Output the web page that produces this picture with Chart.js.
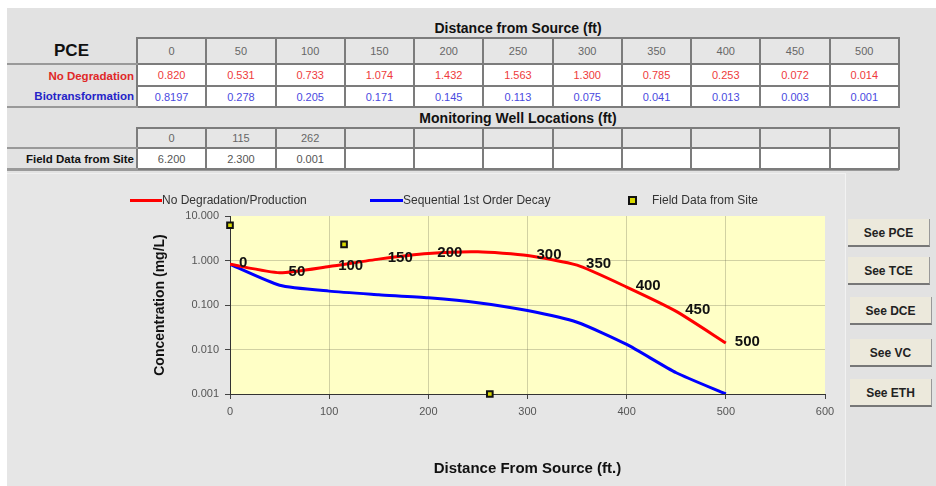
<!DOCTYPE html>
<html>
<head>
<meta charset="utf-8">
<script src="https://cdn.jsdelivr.net/npm/chart.js@4"></script>
<style>
  body { margin: 0; background: #fff; font-family: "Liberation Sans", Arial, sans-serif; }
  #hoja { position: absolute; left: 7px; top: 8px; width: 929px; height: 478px; background: #e2e2e2; }
  .tit { position: absolute; font-weight: bold; font-size: 14px; color: #111; text-align: center; }
  table.tabla { position: absolute; left: 7px; border-collapse: collapse; table-layout: fixed; font-size: 11px; }
  table.tabla td { padding: 0; text-align: center; overflow: hidden; white-space: nowrap; }
  td.dato { border: 2px solid #7c7c7c; }
  td.enc { color: #666; background: #e6e6e6; }
  td.blanco { background: #fff; }
  td.etq { text-align: right !important; font-weight: bold; font-size: 11.5px; padding-right: 2px !important; }
  #grafica { position: absolute; left: 7px; top: 173px; width: 838px; height: 313px; background: #e6e6e6; border-right: 1px solid #f2f2f2; border-top: 1px solid #f0f0f0; }
  #leyenda { position: absolute; top: 193px; left: 0; font-size: 12px; color: #333; }
  .item { position: absolute; top: 0; white-space: nowrap; height: 14px; line-height: 14px; }
  .linea { position: absolute; top: 6px; height: 3px; }
  .boton { position: absolute; left: 848px; width: 82px; height: 28px; line-height: 28px; text-align: center; font-weight: bold; font-size: 12px; color: #222; background: #ece9dc; border-bottom: 2px solid #777; border-right: 1px solid #999; box-sizing: border-box; }
</style>
</head>
<body>
<div id="hoja"></div>

<div class="tit" style="left:137px; width:762px; top:20px;">Distance from Source (ft)</div>
<table class="tabla" id="tabla1" style="top:37px;"></table>
<div class="tit" style="left:137px; width:762px; top:110px;">Monitoring Well Locations (ft)</div>
<table class="tabla" id="tabla2" style="top:127px;"></table>
<div style="position:absolute; left:7px; top:170px; width:892px; height:1px; background:#9a9a9a;"></div>

<div id="grafica"><canvas id="myChart"></canvas></div>

<div id="leyenda">
  <div class="linea" style="left:130px; width:32px; background:#ff0000;"></div>
  <div class="item" style="left:162px;">No Degradation/Production</div>
  <div class="linea" style="left:370px; width:33px; background:#0000ff;"></div>
  <div class="item" style="left:403px;">Sequential 1st Order Decay</div>
  <div style="position:absolute; left:628px; top:3px; width:5px; height:5px; border:2px solid #111; background:#d8d800;"></div>
  <div class="item" style="left:652px;">Field Data from Site</div>
</div>

<div class="boton" style="top:219px;">See PCE</div>
<div class="boton" style="top:257px;">See TCE</div>
<div class="boton" style="top:297px; left:850px;">See DCE</div>
<div class="boton" style="top:339px; left:850px;">See VC</div>
<div class="boton" style="top:379px; left:850px;">See ETH</div>

<script>
// Datos de la grafica
const distancias = [0, 50, 100, 150, 200, 250, 300, 350, 400, 450, 500];
const sinDegradacion = [0.820, 0.531, 0.733, 1.074, 1.432, 1.563, 1.300, 0.785, 0.253, 0.072, 0.014];
const biotransformacion = [0.8197, 0.278, 0.205, 0.171, 0.145, 0.113, 0.075, 0.041, 0.013, 0.003, 0.001];
const textoSinDeg = ['0.820', '0.531', '0.733', '1.074', '1.432', '1.563', '1.300', '0.785', '0.253', '0.072', '0.014'];
const textoBio = ['0.8197', '0.278', '0.205', '0.171', '0.145', '0.113', '0.075', '0.041', '0.013', '0.003', '0.001'];
const pozos = [0, 115, 262];
const datosCampo = [6.200, 2.300, 0.001];
const textoCampo = ['6.200', '2.300', '0.001'];
// etiquetas sobre la curva roja (la de 250 no aparece)
const etiquetasRojas = ['0', '50', '100', '150', '200', '', '300', '350', '400', '450', '500'];
const ticksY = [0.001, 0.01, 0.1, 1, 10];

// Arma las tablas de arriba
function colgroup(){
    let html = '<colgroup><col style="width:130px">';
    for (let i = 0; i < 11; i++) html += '<col style="width:69.27px">';
    return html + '</colgroup>';
}

function celdas(valores, clase, color){
    let html = '';
    for (let i = 0; i < 11; i++){
        const v = valores[i] !== undefined ? valores[i] : '';
        html += `<td class="dato ${clase}" style="color:${color}">${v}</td>`;
    }
    return html;
}

const t1 = document.getElementById('tabla1');
t1.innerHTML = colgroup() +
    `<tr style="height:26px"><td style="font-size:17px;font-weight:bold;color:#111;border-bottom:2px solid #999">PCE</td>${celdas(distancias, 'enc', '#666')}</tr>` +
    `<tr style="height:22px"><td class="etq" style="color:#e02828">No Degradation</td>${celdas(textoSinDeg, 'blanco', '#ee3b3b')}</tr>` +
    `<tr style="height:21px"><td class="etq" style="color:#2424c8;border-bottom:2px solid #999">Biotransformation</td>${celdas(textoBio, 'blanco', '#4a4ae0')}</tr>`;

const t2 = document.getElementById('tabla2');
t2.innerHTML = colgroup() +
    `<tr style="height:20px"><td style="border-bottom:2px solid #999"></td>${celdas(pozos, 'enc', '#666')}</tr>` +
    `<tr style="height:21px"><td class="etq" style="color:#111;border-bottom:2px solid #999">Field Data from Site</td>${celdas(textoCampo, 'blanco', '#555')}</tr>`;

// Fondo amarillo del area de la grafica
const fondoAmarillo = {
    id: 'fondoAmarillo',
    beforeDraw(chart){
        const {ctx, chartArea} = chart;
        ctx.save();
        ctx.fillStyle = '#ffffc6';
        ctx.fillRect(chartArea.left, chartArea.top, chartArea.right - chartArea.left, chartArea.bottom - chartArea.top);
        ctx.restore();
    }
};

// Pone la distancia junto a cada punto de la curva roja
const etiquetas = {
    id: 'etiquetas',
    afterDatasetsDraw(chart){
        const ctx = chart.ctx;
        const meta = chart.getDatasetMeta(0);
        ctx.save();
        ctx.font = 'bold 15px "Liberation Sans", Arial, sans-serif';
        ctx.fillStyle = '#111';
        ctx.textAlign = 'left';
        ctx.textBaseline = 'middle';
        meta.data.forEach((p, i) => {
            if (etiquetasRojas[i]) ctx.fillText(etiquetasRojas[i], p.x + 9, p.y - 1);
        });
        ctx.restore();
    }
};

const ctx = document.getElementById('myChart');

new Chart(ctx, {
    type: 'line',
    data: {
        datasets: [{
            label: 'No Degradation/Production',
            data: distancias.map((d, i) => ({x: d, y: sinDegradacion[i]})),
            borderColor: '#ff0000',
            borderWidth: 3,
            pointRadius: 0,
            tension: 0.2
        },
        {
            label: 'Sequential 1st Order Decay',
            data: distancias.map((d, i) => ({x: d, y: biotransformacion[i]})),
            borderColor: '#0000ff',
            borderWidth: 3,
            pointRadius: 0,
            tension: 0.2
        },
        {
            label: 'Field Data from Site',
            data: pozos.map((d, i) => ({x: d, y: datosCampo[i]})),
            showLine: false,
            pointStyle: 'rect',
            pointRadius: 4,
            borderWidth: 2,
            borderColor: '#111',
            backgroundColor: '#d8d800',
            clip: false
        }]
    },
    options: {
        responsive: true,
        maintainAspectRatio: false,
        animation: false,
        layout: { padding: { top: 42, right: 20, left: 140, bottom: 0 } },
        plugins: {
            legend: { display: false },
            tooltip: { enabled: false }
        },
        scales: {
            x: {
                type: 'linear',
                min: 0,
                max: 600,
                afterFit: s => { s.height = 93; },
                ticks: { stepSize: 100, color: '#555', font: { size: 11 }, padding: 6 },
                grid: {
                    color: c => (c.tick && (c.tick.value === 0 || c.tick.value === 600)) ? 'rgba(0,0,0,0)' : 'rgba(90,90,70,0.28)',
                    tickColor: '#444',
                    tickLength: 5
                },
                border: { color: '#333', width: 1 },
                title: {
                    display: true,
                    text: 'Distance From Source (ft.)',
                    color: '#111',
                    font: { size: 15, weight: 'bold' },
                    padding: { top: 0, bottom: 9 }
                }
            },
            y: {
                type: 'logarithmic',
                min: 0.001,
                max: 10,
                afterFit: s => { s.width = 83; },
                afterBuildTicks: s => { s.ticks = ticksY.map(v => ({value: v})); },
                ticks: {
                    color: '#555',
                    font: { size: 11 },
                    padding: 6,
                    callback: v => Number(v).toFixed(3)
                },
                grid: {
                    color: c => (c.tick && (c.tick.value === 10 || c.tick.value === 0.001)) ? 'rgba(0,0,0,0)' : 'rgba(90,90,70,0.28)',
                    tickColor: '#444',
                    tickLength: 5
                },
                border: { color: '#333', width: 1 },
                title: {
                    display: true,
                    text: 'Concentration (mg/L)',
                    color: '#111',
                    font: { size: 14, weight: 'bold' },
                    padding: { top: 5, bottom: 0 }
                }
            }
        }
    },
    plugins: [fondoAmarillo, etiquetas]
});
</script>
</body>
</html>
